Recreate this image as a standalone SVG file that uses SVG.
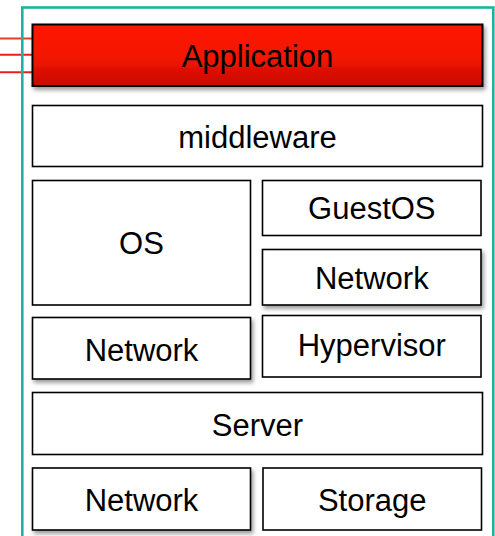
<svg xmlns="http://www.w3.org/2000/svg" width="495" height="536" viewBox="0 0 495 536">
  <style>
    .box { fill: #ffffff; stroke: #000000; stroke-width: 1.6; }
    .app { fill: url(#appFill); stroke: #000000; stroke-width: 2; }
    .label { font-family: "Liberation Sans", Arial, sans-serif; font-size: 31px; fill: #000000; text-anchor: middle; }
    .link { stroke-width: 2; fill: none; }
    .frame { fill: none; stroke: #1db3a0; stroke-width: 2.6; }
  </style>
  <defs>
    <linearGradient id="appFill" x1="0" y1="0" x2="0" y2="1">
      <stop offset="0" stop-color="#ff1a00"/>
      <stop offset="0.55" stop-color="#f21400"/>
      <stop offset="1" stop-color="#c40c00"/>
    </linearGradient>
    <filter id="shadow" x="-5%" y="-20%" width="115%" height="150%">
      <feDropShadow dx="2" dy="3" stdDeviation="2" flood-color="#000000" flood-opacity="0.4"/>
    </filter>
  </defs>

  <!-- incoming links into the application layer -->
  <g id="connectors">
    <line class="link" x1="0" y1="38.5" x2="33" y2="38.5" stroke="#e8401c"/>
    <line class="link" x1="0" y1="54.7" x2="33" y2="54.7" stroke="#ee1c1c"/>
    <line class="link" x1="0" y1="72.3" x2="33" y2="72.3" stroke="#ee1c1c"/>
  </g>

  <!-- outer container -->
  <rect class="frame" x="22.3" y="7.5" width="471" height="545"/>

  <g id="application">
    <rect class="app" x="32.5" y="24.5" width="450" height="61.5" filter="url(#shadow)"/>
    <text class="label" x="257.5" y="66.8">Application</text>
  </g>

  <g id="middleware">
    <rect class="box" x="32.5" y="105.5" width="450" height="61"/>
    <text class="label" x="257.5" y="148">middleware</text>
  </g>

  <g id="os">
    <rect class="box" x="32.5" y="180.5" width="218" height="124.5"/>
    <text class="label" x="141.5" y="253.5">OS</text>
  </g>

  <g id="network-host">
    <rect class="box" x="32.5" y="317.5" width="218" height="61.5" filter="url(#shadow)"/>
    <text class="label" x="141.5" y="361">Network</text>
  </g>

  <g id="guestos">
    <rect class="box" x="262.5" y="180.5" width="218.5" height="55"/>
    <text class="label" x="371.8" y="218.8">GuestOS</text>
  </g>

  <g id="network-guest">
    <rect class="box" x="262.5" y="249.5" width="218.5" height="55.5" filter="url(#shadow)"/>
    <text class="label" x="371.8" y="289">Network</text>
  </g>

  <g id="hypervisor">
    <rect class="box" x="262.5" y="315.5" width="218.5" height="61.5"/>
    <text class="label" x="371.8" y="356">Hypervisor</text>
  </g>

  <g id="server">
    <rect class="box" x="32.5" y="392.5" width="450" height="62"/>
    <text class="label" x="257.5" y="435.5">Server</text>
  </g>

  <g id="network-physical">
    <rect class="box" x="32.5" y="468" width="218" height="62" filter="url(#shadow)"/>
    <text class="label" x="141.5" y="510.5">Network</text>
  </g>

  <g id="storage">
    <rect class="box" x="263" y="468" width="218.5" height="62"/>
    <text class="label" x="372.2" y="510.5">Storage</text>
  </g>
</svg>
